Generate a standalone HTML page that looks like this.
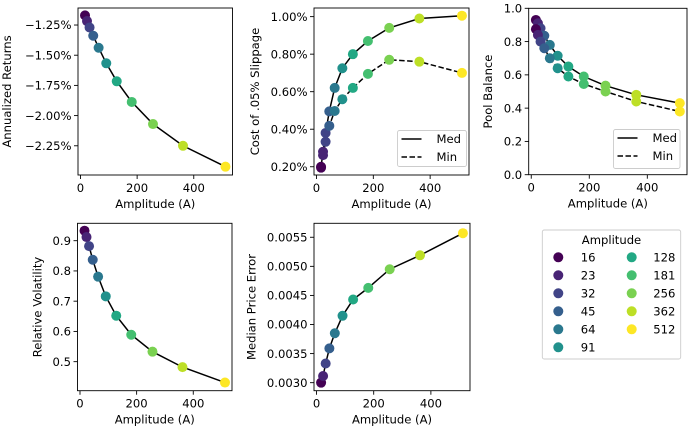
<!DOCTYPE html>
<html><head><meta charset="utf-8">
<style>
html,body{margin:0;padding:0;background:#fff;}
svg{display:block;font-family:"DejaVu Sans","Liberation Sans",sans-serif;}
</style></head>
<body>
<svg id="fig" width="690" height="431" viewBox="0 0 690 431" xmlns="http://www.w3.org/2000/svg"></svg>
<script>
const amplitudes = [16, 23, 32, 45, 64, 91, 128, 181, 256, 362, 512];
const colors = ["#440154","#482475","#414487","#355f8d","#2a788e","#21918c","#22a884","#44bf70","#7ad151","#bddf26","#fde725"];
const returnsMed = [-1.17, -1.217, -1.27, -1.339, -1.438, -1.567, -1.716, -1.887, -2.07, -2.25, -2.423];
const slipMed = [0.20, 0.28, 0.38, 0.495, 0.62, 0.725, 0.80, 0.87, 0.94, 0.99, 1.005];
const slipMin = [0.195, 0.262, 0.333, 0.418, 0.497, 0.56, 0.62, 0.695, 0.77, 0.76, 0.70];
const poolMed = [0.93, 0.91, 0.88, 0.835, 0.78, 0.715, 0.65, 0.59, 0.535, 0.48, 0.43];
const poolMin = [0.875, 0.84, 0.80, 0.76, 0.70, 0.64, 0.59, 0.545, 0.50, 0.44, 0.38];
const volMed = [0.933, 0.912, 0.882, 0.837, 0.781, 0.716, 0.652, 0.589, 0.533, 0.482, 0.431];
const errMed = [0.00300, 0.003115, 0.00333, 0.00359, 0.00385, 0.00415, 0.00443, 0.00463, 0.00495, 0.00519, 0.00557];
const xTicks = [0, 200, 400];
const retTicks = [-1.25, -1.5, -1.75, -2.0, -2.25];
const slipTicks = [0.2, 0.4, 0.6, 0.8, 1.0];
const poolTicks = [0, 0.2, 0.4, 0.6, 0.8, 1.0];
const volTicks = [0.5, 0.6, 0.7, 0.8, 0.9];
const errTicks = [0.0030, 0.0035, 0.0040, 0.0045, 0.0050, 0.0055];

const NS = "http://www.w3.org/2000/svg";
const svg = document.getElementById("fig");
const FS = 11.6;
const MR = 5;
function mk(tag, attrs, parent, text){
  const e = document.createElementNS(NS, tag);
  for (const k in attrs) e.setAttribute(k, attrs[k]);
  if (text !== undefined) e.textContent = text;
  (parent || svg).appendChild(e);
  return e;
}
const XMIN = -8.8, XMAX = 536.8;

function panel(name, box, ymin, ymax, yTicks, yFmt, ylabel, ylabelX, series, legend){
  const g = mk("g", {});
  
  
  const [L, T, R, B] = box;
  const sx = v => L + (v - XMIN) / (XMAX - XMIN) * (R - L);
  const sy = v => B - (v - ymin) / (ymax - ymin) * (B - T);
  xTicks.forEach(t => {
    const x = sx(t);
    mk("line", {x1:x, x2:x, y1:B, y2:B+4, stroke:"#000", "stroke-width":0.9}, g);
    const tl = mk("text", {x:x, y:B+17, "font-size":FS, "text-anchor":"middle"}, g, String(t));
    
    
  });
  yTicks.forEach(t => {
    const y = sy(t);
    mk("line", {x1:L-4, x2:L, y1:y, y2:y, stroke:"#000", "stroke-width":0.9}, g);
    const tl = mk("text", {x:L-6.5, y:y+4.2, "font-size":FS, "text-anchor":"end"}, g, yFmt(t));
    
    
  });
  const xl = mk("text", {x:(L+R)/2, y:B+33, "font-size":FS, "text-anchor":"middle"}, g, "Amplitude (A)");
  
  
  const cy = (T+B)/2;
  const yl = mk("text", {x:ylabelX, y:cy, "font-size":FS, "text-anchor":"middle", transform:`rotate(-90 ${ylabelX} ${cy})`}, g, ylabel);
  
  
  series.forEach(s => {
    const pts = amplitudes.map((a,i) => sx(a).toFixed(2)+","+sy(s.vals[i]).toFixed(2)).join(" ");
    const pl = mk("polyline", {points:pts, fill:"none", stroke:"#000", "stroke-width":1.5, "stroke-dasharray": s.dash ? "5.5,2.5" : "none"}, g);
    
    
  });
  series.forEach(s => {
    amplitudes.forEach((a,i) => {
      const c = mk("circle", {cx:sx(a), cy:sy(s.vals[i]), r:MR, fill:colors[i]}, g);
      
      
    });
  });
  mk("rect", {x:L, y:T, width:R-L, height:B-T, fill:"none", stroke:"#000", "stroke-width":0.9}, g);
  if (legend){
    const [lx, ly, lw, lh] = legend;
    const lg = mk("g", {}, g);
    
    
    mk("rect", {x:lx, y:ly, width:lw, height:lh, rx:2, fill:"#fff", "fill-opacity":0.8, stroke:"#ccc", "stroke-width":0.9}, lg);
    [["Med", false, ly+8.5],["Min", true, ly+26.5]].forEach(([lab, dash, yy]) => {
      mk("line", {x1:lx+4, x2:lx+24, y1:yy, y2:yy, stroke:"#000", "stroke-width":1.5, "stroke-dasharray": dash ? "5.5,2.5" : "none"}, lg);
      const t = mk("text", {x:lx+39, y:yy+4.2, "font-size":FS}, lg, lab);
      
      
    });
  }
}
const pct = v => v.toFixed(2) + "%";
const pctNeg = v => (v < 0 ? "\u2212" : "") + Math.abs(v).toFixed(2) + "%";
panel("annualized-returns-chart", [78, 8, 232.5, 175], -2.492, -1.109, retTicks, pctNeg, "Annualized Returns", 11, [{name:"returns-med", vals:returnsMed}]);
panel("slippage-chart", [314, 8, 469, 175], 0.156, 1.046, slipTicks, pct, "Cost of .05% Slippage", 259, [{name:"slippage-med", vals:slipMed},{name:"slippage-min", vals:slipMin, dash:true}], [397.5, 130.5, 69, 36]);
panel("pool-balance-chart", [528.7, 8.3, 687, 174.7], 0, 1.0, poolTicks, v => v.toFixed(1), "Pool Balance", 492, [{name:"pool-med", vals:poolMed},{name:"pool-min", vals:poolMin, dash:true}], [613.5, 129.5, 66.5, 39]);
panel("relative-volatility-chart", [77.5, 223.3, 232, 390.7], 0.404, 0.9575, volTicks, v => v.toFixed(1), "Relative Volatility", 41.5, [{name:"volatility-med", vals:volMed}]);
panel("median-price-error-chart", [314, 223.3, 470, 390.7], 0.002862, 0.00574, errTicks, v => v.toFixed(4), "Median Price Error", 255.5, [{name:"price-error-med", vals:errMed}]);

const leg = mk("g", {});


mk("rect", {x:542.3, y:230, width:138.4, height:129, rx:2, fill:"#fff", stroke:"#ccc", "stroke-width":0.9}, leg);
const lt = mk("text", {x:611.5, y:244, "font-size":FS, "text-anchor":"middle"}, leg, "Amplitude");


amplitudes.forEach((a, i) => {
  const col = i < 6 ? 0 : 1;
  const row = i < 6 ? i : i - 6;
  const y = 257.3 + row * 18;
  const mx = col ? 631.7 : 558.3;
  const tx = col ? 653.3 : 580.7;
  const c = mk("circle", {cx:mx, cy:y, r:MR, fill:colors[i]}, leg);
  
  
  const t = mk("text", {x:tx, y:y+4.2, "font-size":FS}, leg, String(a));
  
  
});
</script>
</body></html>
